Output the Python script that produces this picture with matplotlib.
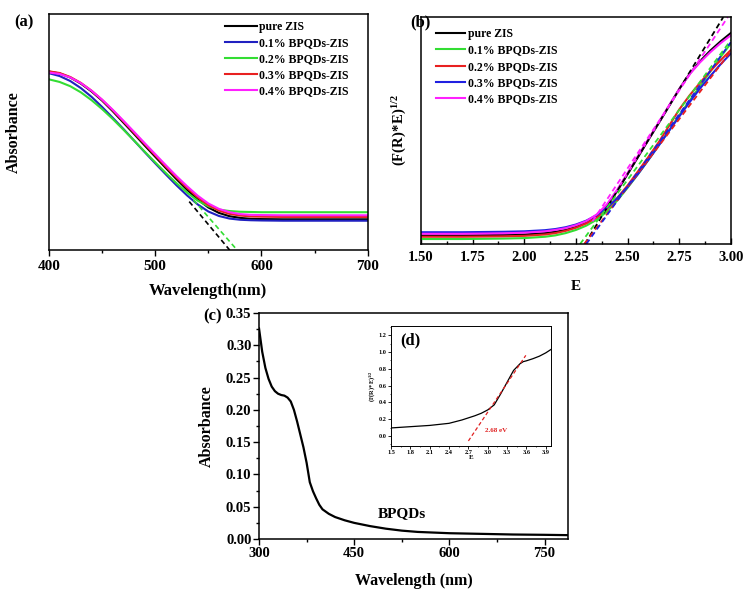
import numpy as np
import matplotlib
matplotlib.use("Agg")
import matplotlib.pyplot as plt
from matplotlib.ticker import MultipleLocator

plt.rcParams['font.family'] = ['Liberation Serif', 'DejaVu Serif']
plt.rcParams['font.weight'] = 'bold'
plt.rcParams['axes.labelweight'] = 'bold'
plt.rcParams['mathtext.default'] = 'regular'
plt.rcParams['axes.linewidth'] = 1.1

# === panel (a): absorbance of ZIS samples ===
wl_a = [400, 410, 420, 430, 440, 450, 460, 470, 480, 490, 500, 510, 520, 530,
        540, 550, 560, 570, 580, 590, 600, 620, 650, 700]
abs_pure = [0.756, 0.748, 0.731, 0.705, 0.672, 0.633, 0.588, 0.540, 0.492, 0.443, 0.395,
            0.347, 0.300, 0.255, 0.214, 0.180, 0.157, 0.143, 0.136, 0.132, 0.131,
            0.130, 0.130, 0.130]
abs_01 = [0.749, 0.737, 0.716, 0.686, 0.649, 0.606, 0.560, 0.513, 0.464, 0.415, 0.367,
          0.320, 0.274, 0.231, 0.193, 0.163, 0.144, 0.133, 0.128, 0.126, 0.125,
          0.124, 0.124, 0.124]
abs_02 = [0.723, 0.712, 0.694, 0.668, 0.635, 0.597, 0.555, 0.510, 0.464, 0.417, 0.371,
          0.326, 0.283, 0.243, 0.209, 0.185, 0.171, 0.165, 0.162, 0.161, 0.160,
          0.160, 0.160, 0.160]
abs_03 = [0.757, 0.750, 0.733, 0.708, 0.675, 0.636, 0.592, 0.545, 0.497, 0.449, 0.401,
          0.353, 0.307, 0.263, 0.223, 0.190, 0.167, 0.153, 0.146, 0.142, 0.141,
          0.140, 0.140, 0.140]
abs_04 = [0.752, 0.746, 0.731, 0.707, 0.675, 0.637, 0.594, 0.548, 0.501, 0.453, 0.406,
          0.359, 0.313, 0.270, 0.230, 0.197, 0.174, 0.160, 0.152, 0.149, 0.148,
          0.147, 0.147, 0.147]
# tangent lines (x pairs, y pairs)
tan_a_black = ([532, 570], [0.205, 0.0])
tan_a_green = ([536, 577], [0.212, 0.0])

# === panel (b): Tauc plots ===
e_b = [1.5, 1.6, 1.7, 1.8, 1.9, 2.0, 2.1, 2.15, 2.2, 2.25, 2.3, 2.35, 2.4, 2.45, 2.5,
       2.55, 2.6, 2.65, 2.7, 2.75, 2.8, 2.85, 2.9, 2.95, 3.0]
tauc_pure = [0.038, 0.038, 0.038, 0.039, 0.040, 0.042, 0.048, 0.054, 0.062, 0.075, 0.094,
             0.125, 0.170, 0.235, 0.308, 0.383, 0.458, 0.532, 0.607, 0.683, 0.750,
             0.805, 0.852, 0.893, 0.930]
tauc_01 = [0.022, 0.022, 0.022, 0.023, 0.024, 0.026, 0.032, 0.038, 0.048, 0.062, 0.081,
           0.107, 0.143, 0.192, 0.248, 0.308, 0.370, 0.435, 0.500, 0.568, 0.632,
           0.695, 0.760, 0.825, 0.884]
tauc_02 = [0.032, 0.032, 0.032, 0.033, 0.034, 0.036, 0.042, 0.048, 0.058, 0.072, 0.091,
           0.117, 0.155, 0.203, 0.258, 0.320, 0.383, 0.448, 0.520, 0.593, 0.655,
           0.710, 0.762, 0.810, 0.855]
tauc_03 = [0.052, 0.052, 0.052, 0.053, 0.054, 0.056, 0.061, 0.066, 0.074, 0.086, 0.103,
           0.127, 0.160, 0.202, 0.251, 0.308, 0.370, 0.433, 0.498, 0.562, 0.625,
           0.685, 0.740, 0.792, 0.840]
tauc_04 = [0.045, 0.045, 0.045, 0.046, 0.047, 0.050, 0.056, 0.062, 0.070, 0.083, 0.101,
           0.130, 0.175, 0.240, 0.313, 0.388, 0.462, 0.535, 0.610, 0.683, 0.748,
           0.800, 0.845, 0.885, 0.920]
tan_b_black = ([2.293, 2.963], [0.0, 1.0])
tan_b_green = ([2.27, 3.0], [0.0, 0.899])
tan_b_red = ([2.29, 3.0], [0.0, 0.85])
tan_b_blue = ([2.30, 3.0], [0.0, 0.89])
tan_b_magenta = ([2.33, 2.985], [0.10, 1.0])

# === panel (c): BPQDs absorbance ===
wl_c = [300, 305, 310, 315, 320, 325, 330, 335, 340, 345, 350, 355, 360, 365, 370, 375,
        380, 385, 390, 395, 400, 410, 420, 435, 450, 475, 500, 525, 550, 600, 650,
        700, 750, 787]
abs_c = [0.326, 0.290, 0.265, 0.248, 0.236, 0.229, 0.225, 0.223, 0.222, 0.219, 0.213,
         0.200, 0.182, 0.162, 0.142, 0.118, 0.088, 0.074, 0.063, 0.053, 0.046, 0.039,
         0.034, 0.029, 0.025, 0.020, 0.016, 0.013, 0.011, 0.009, 0.008, 0.007, 0.0065,
         0.006]

# === inset (d) ===
e_d = [1.5, 1.8, 2.1, 2.4, 2.6, 2.8, 2.9, 3.0, 3.1, 3.2, 3.3, 3.4, 3.5, 3.55, 3.6, 3.7,
       3.8, 3.9, 3.98]
tauc_d = [0.095, 0.110, 0.125, 0.150, 0.190, 0.240, 0.270, 0.310, 0.370, 0.500, 0.640,
          0.780, 0.860, 0.885, 0.895, 0.920, 0.950, 0.990, 1.030]
tan_d = ([2.70, 3.59], [-0.06, 0.96])

labels_a = ['pure ZIS', '0.1% BPQDs-ZIS', '0.2% BPQDs-ZIS', '0.3% BPQDs-ZIS', '0.4% BPQDs-ZIS']
colors_a = ['black', '#2020c0', '#33dd33', '#e82020', '#ff20ff']
colors_b = ['black', '#33dd33', '#e82020', '#2020e0', '#ff20ff']

fig = plt.figure(figsize=(7.48, 5.90), dpi=100)

# ---- (a)
ax1 = fig.add_axes([0.0655, 0.5763, 0.4261, 0.4000])
for y, c, lab in zip([abs_pure, abs_01, abs_02, abs_03, abs_04], colors_a, labels_a):
    ax1.plot(wl_a, y, color=c, lw=1.5, label=lab)
ax1.plot(*tan_a_black, color='black', lw=1.2, ls=(0, (3, 2)))
ax1.plot(*tan_a_green, color='#33dd33', lw=1.2, ls=(0, (3, 2)))
ax1.set_xlim(400, 700)
ax1.set_ylim(0, 1)
ax1.set_yticks([])
ax1.xaxis.set_major_locator(MultipleLocator(100))
ax1.xaxis.set_minor_locator(MultipleLocator(50))
ax1.tick_params(axis='x', direction='out', length=4, width=1, labelsize=11, pad=3)
ax1.tick_params(axis='x', which='minor', direction='out', length=2, width=1)
ax1.set_xlabel('Wavelength(nm)', fontsize=12)
ax1.set_ylabel('Absorbance', fontsize=11.5)
ax1.xaxis.set_label_coords(0.5, -0.14)
ax1.yaxis.set_label_coords(-0.085, 0.5)
ax1.legend(loc='upper left', bbox_to_anchor=(0.552, 0.97), frameon=False, fontsize=8.5,
           borderpad=0, borderaxespad=0, handlelength=2.7, handletextpad=0.2,
           labelspacing=0.35)
fig.text(24 / 748, 1 - 22 / 590, '(a)', fontsize=12, fontweight='bold', ha='center', va='center')

# ---- (b)
ax2 = fig.add_axes([0.5628, 0.5864, 0.4144, 0.3847])
for y, c, lab in zip([tauc_pure, tauc_01, tauc_02, tauc_03, tauc_04], colors_b, labels_a):
    ax2.plot(e_b, y, color=c, lw=1.5, label=lab)
for t, c in zip([tan_b_black, tan_b_green, tan_b_red, tan_b_blue, tan_b_magenta], colors_b):
    ax2.plot(*t, color=c, lw=1.3, ls=(0, (3, 2)))
ax2.set_xlim(1.5, 3.0)
ax2.set_ylim(0, 1)
ax2.set_yticks([])
ax2.xaxis.set_major_locator(MultipleLocator(0.25))
ax2.xaxis.set_minor_locator(MultipleLocator(0.125))
ax2.xaxis.set_major_formatter(matplotlib.ticker.FormatStrFormatter('%.2f'))
ax2.tick_params(axis='x', direction='in', length=4, width=1, labelsize=10.5, pad=5)
ax2.tick_params(axis='x', which='minor', direction='in', length=2, width=1)
ax2.set_xlabel('E', fontsize=11)
ax2.set_ylabel(r'$\mathregular{(F(R)\!*\!E)^{1/2}}$', fontsize=10.5)
ax2.xaxis.set_label_coords(0.5, -0.16)
ax2.yaxis.set_label_coords(-0.04, 0.5)
ax2.legend(loc='upper left', bbox_to_anchor=(0.048, 0.95), frameon=False, fontsize=8.5,
           borderpad=0, borderaxespad=0, handlelength=2.5, handletextpad=0.2,
           labelspacing=0.35)
fig.text(420 / 748, 1 - 22 / 590, '(b)', fontsize=12, fontweight='bold', ha='center', va='center')

# ---- (c)
ax3 = fig.add_axes([0.3463, 0.0864, 0.4131, 0.3831])
ax3.plot(wl_c, abs_c, color='black', lw=1.6)
ax3.set_xlim(300, 787)
ax3.set_ylim(0, 0.35)
ax3.xaxis.set_major_locator(MultipleLocator(150))
ax3.xaxis.set_minor_locator(MultipleLocator(75))
ax3.yaxis.set_major_locator(MultipleLocator(0.05))
ax3.yaxis.set_minor_locator(MultipleLocator(0.025))
ax3.yaxis.set_major_formatter(matplotlib.ticker.FormatStrFormatter('%.2f'))
ax3.tick_params(direction='out', length=4, width=1, labelsize=10.5, pad=1.5)
ax3.tick_params(which='minor', direction='out', length=2, width=1)
ax3.set_xlabel('Wavelength (nm)', fontsize=11.5)
ax3.set_ylabel('Absorbance', fontsize=11.5)
ax3.xaxis.set_label_coords(0.5, -0.15)
ax3.yaxis.set_label_coords(-0.142, 0.5)
ax3.text(525, 0.04, 'BPQDs', fontsize=11, fontweight='bold', ha='center', va='center')
fig.text(213 / 748, 1 - 316 / 590, '(c)', fontsize=12, fontweight='bold', ha='center', va='center')

# ---- (d) inset
ax4 = fig.add_axes([0.5227, 0.2441, 0.2139, 0.2034])
ax4.plot(e_d, tauc_d, color='black', lw=0.9)
ax4.plot(*tan_d, color='#e02020', lw=0.9, ls=(0, (3, 2)))
ax4.set_xlim(1.5, 3.98)
ax4.set_ylim(-0.12, 1.31)
ax4.xaxis.set_major_locator(MultipleLocator(0.3))
ax4.xaxis.set_minor_locator(MultipleLocator(0.15))
ax4.yaxis.set_major_locator(MultipleLocator(0.2))
ax4.yaxis.set_minor_locator(MultipleLocator(0.1))
ax4.xaxis.set_major_formatter(matplotlib.ticker.FormatStrFormatter('%.1f'))
ax4.yaxis.set_major_formatter(matplotlib.ticker.FormatStrFormatter('%.1f'))
for s in ax4.spines.values():
    s.set_linewidth(0.7)
ax4.tick_params(direction='out', length=2, width=0.6, labelsize=4.5, pad=1)
ax4.tick_params(which='minor', direction='out', length=1, width=0.5)
ax4.set_xlabel('E', fontsize=5, labelpad=0)
ax4.set_ylabel(r'$\mathregular{(F(R)\!*\!E)^{1/2}}$', fontsize=4.5, labelpad=1)
ax4.text(3.13, 0.07, '2.68 eV', fontsize=5, color='#e02020', ha='center', va='center')
ax4.text(0.12, 0.88, '(d)', transform=ax4.transAxes, fontsize=12, fontweight='bold',
         ha='center', va='center')

fig.savefig('out.png', dpi=100)
